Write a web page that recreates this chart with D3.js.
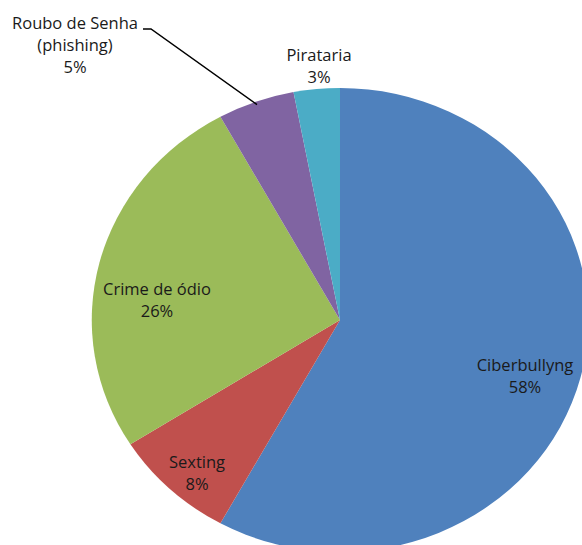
<!DOCTYPE html>
<html>
<head>
<meta charset="utf-8">
<script src="https://cdn.jsdelivr.net/npm/d3@7/dist/d3.min.js"></script>
<style>
  body { margin: 0; background: #fff; }
  svg { display: block; }
  text { font-family: "Open Sans", "Liberation Sans", sans-serif; font-size: 16.5px; fill: #1a1a1a; }
</style>
</head>
<body>
<svg id="chart" width="582" height="545"></svg>
<script>
// Chart data
const categories = ["Ciberbullyng", "Sexting", "Crime de ódio", "Roubo de Senha\n(phishing)", "Pirataria"];
const shares = [58, 8, 26, 5, 3];
const colors = ["#4F81BD", "#C0504D", "#9BBB59", "#8064A2", "#4BACC6"];

const cx = 340, cy = 320;
const R = 232;        // vertical radius
const stretch = 1.07; // chart was exported slightly wider than tall

const svg = d3.select("#chart");

const pie = d3.pie().sort(null).value(d => d);
const arcs = pie(shares);
const arc = d3.arc().innerRadius(0).outerRadius(R);

const g = svg.append("g")
  .attr("transform", `translate(${cx},${cy}) scale(${stretch},1)`);

g.selectAll("path")
  .data(arcs)
  .join("path")
  .attr("d", arc)
  .attr("fill", (d, i) => colors[i]);

// label layout (Excel "best fit" style), centre of each text block
const labelAt = [[525, 376], [197, 473], [157, 300], [75, 45], [319, 66]];
const lineH = 22;

const labels = svg.append("g");
arcs.forEach((d, i) => {
  const [x, y] = labelAt[i];
  const lines = categories[i].split("\n").concat([shares[i] + "%"]);
  const y0 = -(lines.length - 1) * lineH / 2;
  const t = labels.append("text").attr("text-anchor", "middle");
  lines.forEach((s, k) => {
    t.append("tspan")
      .attr("x", x)
      .attr("y", y + y0 + k * lineH)
      .attr("dy", "0.35em")
      .text(s);
  });
});

// leader line for phishing label
const ph = arcs[3];
const phMid = (ph.startAngle + ph.endAngle) / 2;
const edge = [cx + Math.sin(phMid) * (R - 3) * stretch, cy - Math.cos(phMid) * (R - 3)];
svg.append("path")
  .attr("d", `M143,29 L151,29 L${edge[0]},${edge[1]}`)
  .attr("fill", "none")
  .attr("stroke", "#000")
  .attr("stroke-width", 1.5);
</script>
</body>
</html>
